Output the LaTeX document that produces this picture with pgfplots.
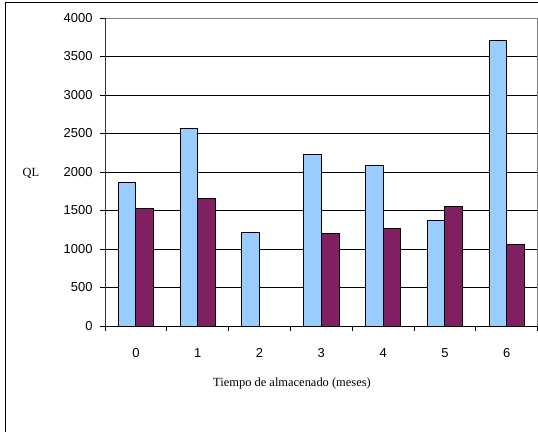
\documentclass[border=0pt]{standalone}
\usepackage{fontspec}
\setmainfont{Liberation Serif}
\newfontfamily\arialf{Liberation Sans}
\usepackage{pgfplots}
\pgfplotsset{compat=1.18}
\definecolor{sblue}{RGB}{153,204,255}
\definecolor{spurple}{RGB}{128,32,96}
\begin{document}
\begin{tikzpicture}[x=1bp,y=1bp]
\path[use as bounding box] (0,0) rectangle (538,-431);
\draw[line width=1bp] (5.5,-435) -- (5.5,-2.8) -- (540,-2.8);
\begin{axis}[at={(105bp,-326bp)}, anchor=south west, scale only axis,
  width=432.6bp, height=308bp,
  xmin=-0.5, xmax=6.5, ymin=0, ymax=4000,
  ybar=0pt, bar width=17.7bp,
  xtick={-0.5,0.5,1.5,2.5,3.5,4.5,5.5,6.5}, x tick label as interval,
  xticklabels={0,1,2,3,4,5,6},
  ytick={0,500,...,4000},
  tick align=outside, xtick pos=lower, ytick pos=left, major tick length=5bp,
  ymajorgrids, grid style={black, line width=0.8bp},
  axis line style={gray, line width=0.8bp},
  tick style={black, line width=0.8bp},
  tick label style={font=\arialf\fontsize{13}{15}\selectfont},
  /pgf/number format/assume math mode=true,
  /pgf/number format/1000 sep={},
  scaled y ticks=false,
  yticklabel style={xshift=-4bp},
  xticklabel style={yshift=-14bp},
]
\addplot[fill=sblue, draw=black, line width=1bp] coordinates {(0,1860) (1,2560) (2,1220) (3,2230) (4,2090) (5,1365) (6,3705)};
\addplot[fill=spurple, draw=black, line width=1bp] coordinates {(0,1525) (1,1655) (2,0) (3,1195) (4,1265) (5,1550) (6,1055)};
\draw[black, line width=0.9bp] (rel axis cs:0,0) -- (rel axis cs:1,0);
\draw[black!80, line width=0.9bp] (rel axis cs:0,0) -- (rel axis cs:0,1);
\end{axis}
\node[font=\fontsize{12.5}{14}\selectfont] at (31,-173) {QL};
\node[font=\fontsize{12.5}{14}\selectfont] at (292,-383) {Tiempo de almacenado (meses)};
\end{tikzpicture}
\end{document}
